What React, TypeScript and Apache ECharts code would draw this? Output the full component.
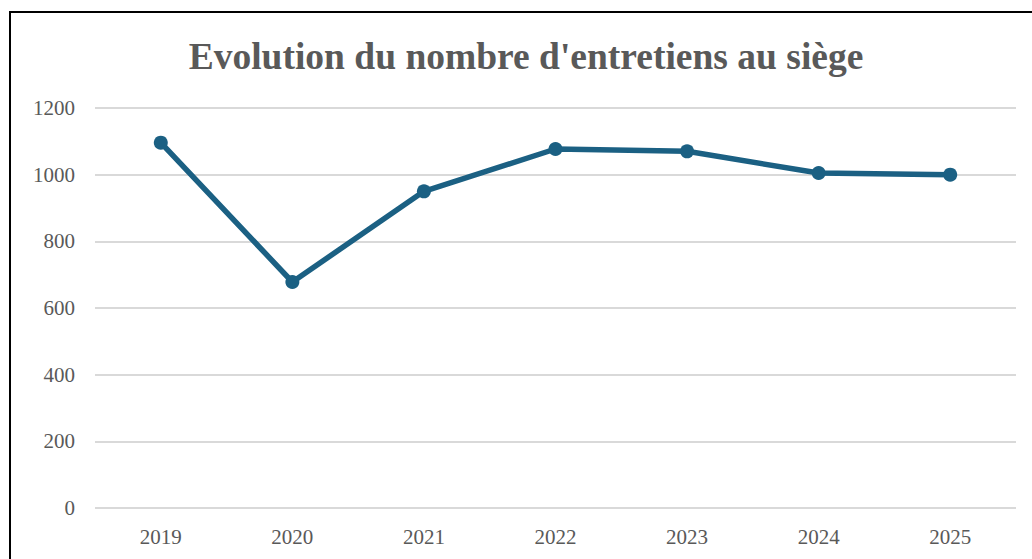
import React, { useEffect, useRef } from "react";
import * as echarts from "echarts";

const years = ["2019", "2020", "2021", "2022", "2023", "2024", "2025"];
const entretiens = [1096, 678, 950, 1077, 1070, 1005, 1000];
const yTicks = { min: 0, max: 1200, interval: 200 };
const titleText = "Evolution du nombre d'entretiens au siège";

export default function App() {
  const ref = useRef<HTMLDivElement>(null);
  useEffect(() => {
    if (!ref.current) return;
    const chart = echarts.init(ref.current, null, { renderer: "svg" });
    chart.setOption({
      animation: false,
      backgroundColor: "#ffffff",
      title: {
        text: titleText,
        left: 521,
        textAlign: "center",
        top: 32,
        textStyle: {
          fontFamily: "Liberation Serif",
          fontWeight: "bold",
          fontSize: 37.5,
          color: "#595959",
        },
      },
      graphic: [
        {
          type: "rect",
          shape: { x: 10, y: 12, width: 1040, height: 600 },
          style: { fill: "none", stroke: "#000000", lineWidth: 2 },
          silent: true,
          z: 100,
        },
      ],
      grid: { left: 95, right: 16, top: 108, bottom: 51, containLabel: false },
      xAxis: {
        type: "category",
        data: years,
        boundaryGap: true,
        axisLine: { show: false },
        axisTick: { show: false },
        axisLabel: {
          fontFamily: "Liberation Serif",
          fontSize: 21,
          color: "#595959",
          margin: 18,
        },
      },
      yAxis: {
        type: "value",
        min: yTicks.min,
        max: yTicks.max,
        interval: yTicks.interval,
        axisLine: { show: false },
        axisTick: { show: false },
        splitLine: { lineStyle: { color: "#d9d9d9", width: 2 } },
        axisLabel: {
          fontFamily: "Liberation Serif",
          fontSize: 21,
          color: "#595959",
          margin: 20,
          formatter: (v: number) => String(v),
        },
      },
      series: [
        {
          type: "line",
          data: entretiens,
          symbol: "circle",
          symbolSize: 14,
          lineStyle: { color: "#1b6083", width: 5.5 },
          itemStyle: { color: "#1b6083" },
        },
      ],
    });
    return () => chart.dispose();
  }, []);
  return (
    <div
      ref={ref}
      style={{ position: "fixed", left: 0, top: 0, width: 1032, height: 559 }}
    />
  );
}
